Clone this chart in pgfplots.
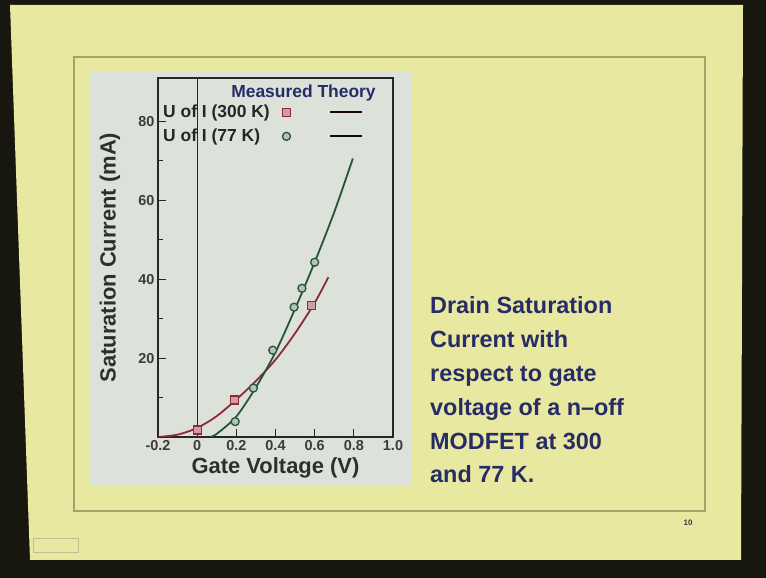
\documentclass[border=0pt]{standalone}
\usepackage{pgfplots}
\pgfplotsset{compat=1.18}
\usepackage{fontspec}
\setmainfont{Liberation Sans}
\definecolor{frame}{HTML}{17170F}
\definecolor{slide}{HTML}{E9E8A0}
\definecolor{frameline}{HTML}{A5A36A}
\definecolor{panel}{HTML}{DCE1DA}
\definecolor{navy}{HTML}{262C66}
\definecolor{red300}{HTML}{8E2A35}
\definecolor{green77}{HTML}{24553A}
\definecolor{tickgrey}{HTML}{3C3C3C}

% legend rows: marker under "Measured", short line under "Theory"
\pgfplotsset{
    leg300/.style={legend image code/.code={\path (0,0);
        \draw[##1] plot coordinates {(15bp,0)};
        \draw[black!80!red300, line width=2bp] (59bp,0) -- (91bp,0);}},
    leg77/.style={legend image code/.code={\path (0,0);
        \draw[##1] plot coordinates {(15bp,0)};
        \draw[black!80!green77, line width=2bp] (59bp,0) -- (91bp,0);}},
}

\begin{document}
\begin{tikzpicture}[x=1bp,y=1bp]
\useasboundingbox (0,0) rectangle (766,578);
% slide photo background
\fill[frame] (0,0) rectangle (766,578);
\fill[slide] (10,573) -- (743,573) -- (741,18) -- (30,18) -- cycle;
\draw[frameline, line width=1.5bp] (74,521) rectangle (705,67);
\draw[frameline!70, line width=0.8bp] (33,40) rectangle (78,26);
\fill[panel] (90,506) rectangle (412,92);
\node[text=tickgrey] at (688,55) {\fontsize{8}{8}\selectfont\bfseries 10};

\begin{axis}[
    at={(158bp,141bp)}, anchor=south west,
    scale only axis, width=235bp, height=359bp,
    xmin=-0.2, xmax=1.0, ymin=0, ymax=91,
    axis line style={draw=black!85, line width=1.2bp},
    tick pos=left, tick align=inside,
    major tick length=8bp, minor tick length=5bp,
    every tick/.style={black!85, line width=1bp},
    xtick={-0.2,0,0.2,0.4,0.6,0.8,1.0},
    xticklabels={-0.2,0,0.2,0.4,0.6,0.8,1.0},
    ytick={20,40,60,80}, yticklabels={20,40,60,80},
    minor ytick={10,30,50,70},
    tick label style={font=\fontsize{14.5}{14.5}\selectfont\bfseries, text=tickgrey},
    xlabel={Gate Voltage (V)},
    ylabel={Saturation Current (mA)},
    label style={font=\fontsize{22}{22}\selectfont\bfseries, text=black!82},
    xlabel style={at={(axis description cs:0.5,-0.086)}, anchor=center},
    ylabel style={at={(axis description cs:-0.204,0.5)}, anchor=center},
    legend plot pos=right,
    legend cell align=left,
    legend style={draw=none, fill=none, at={(axis description cs:0.015,0.929)},
        anchor=north west, font=\fontsize{17.5}{17.5}\selectfont\bfseries,
        inner sep=0pt, row sep=7bp, nodes={inner sep=1.5bp}, text=black!85},
]
% x = 0 reference line
\addplot[black!85, line width=1bp, forget plot] coordinates {(0,0) (0,91)};
% theory, 300 K
\addplot[red300, line width=1.8bp, smooth, forget plot] coordinates {
    (-0.2,0) (-0.1,0.6) (0,2.3) (0.1,5.3) (0.2,9.5) (0.3,14.2)
    (0.4,19.6) (0.5,26.3) (0.6,34.0) (0.67,40.5)
};
% theory, 77 K
\addplot[green77, line width=1.8bp, smooth, forget plot] coordinates {
    (0.066,0) (0.1,0.8) (0.2,5.2) (0.3,12.6) (0.4,21.5)
    (0.5,32.5) (0.6,44.3) (0.7,57.0) (0.795,70.6)
};
% measured, 300 K
\addplot[only marks, mark=square*, mark size=4bp,
    mark options={draw=red300, fill=red300!45, line width=1.3bp}, leg300]
    coordinates {(0,1.8) (0.19,9.4) (0.585,33.4)};
\addlegendentry{U of I (300 K)}
% measured, 77 K
\addplot[only marks, mark=*, mark size=4bp,
    mark options={draw=green77, fill=green77!35, line width=1.3bp}, leg77]
    coordinates {(0.194,3.9) (0.287,12.4) (0.386,22.0) (0.495,32.9) (0.535,37.7) (0.60,44.3)};
\addlegendentry{U of I (77 K)}
\end{axis}

\node[text=navy] at (303.5,485) {\fontsize{17.5}{17.5}\selectfont\bfseries Measured Theory};

% base anchor of a multi-line node is the baseline of its last line
\node[text=navy, anchor=base west, align=left, inner sep=0pt,
      font=\fontsize{23.5}{34}\selectfont\bfseries] at (430,95)
    {Drain Saturation\\ Current with\\ respect to gate\\
     voltage of a n–off\\ MODFET at 300\\ and 77 K.};
\end{tikzpicture}
\end{document}
